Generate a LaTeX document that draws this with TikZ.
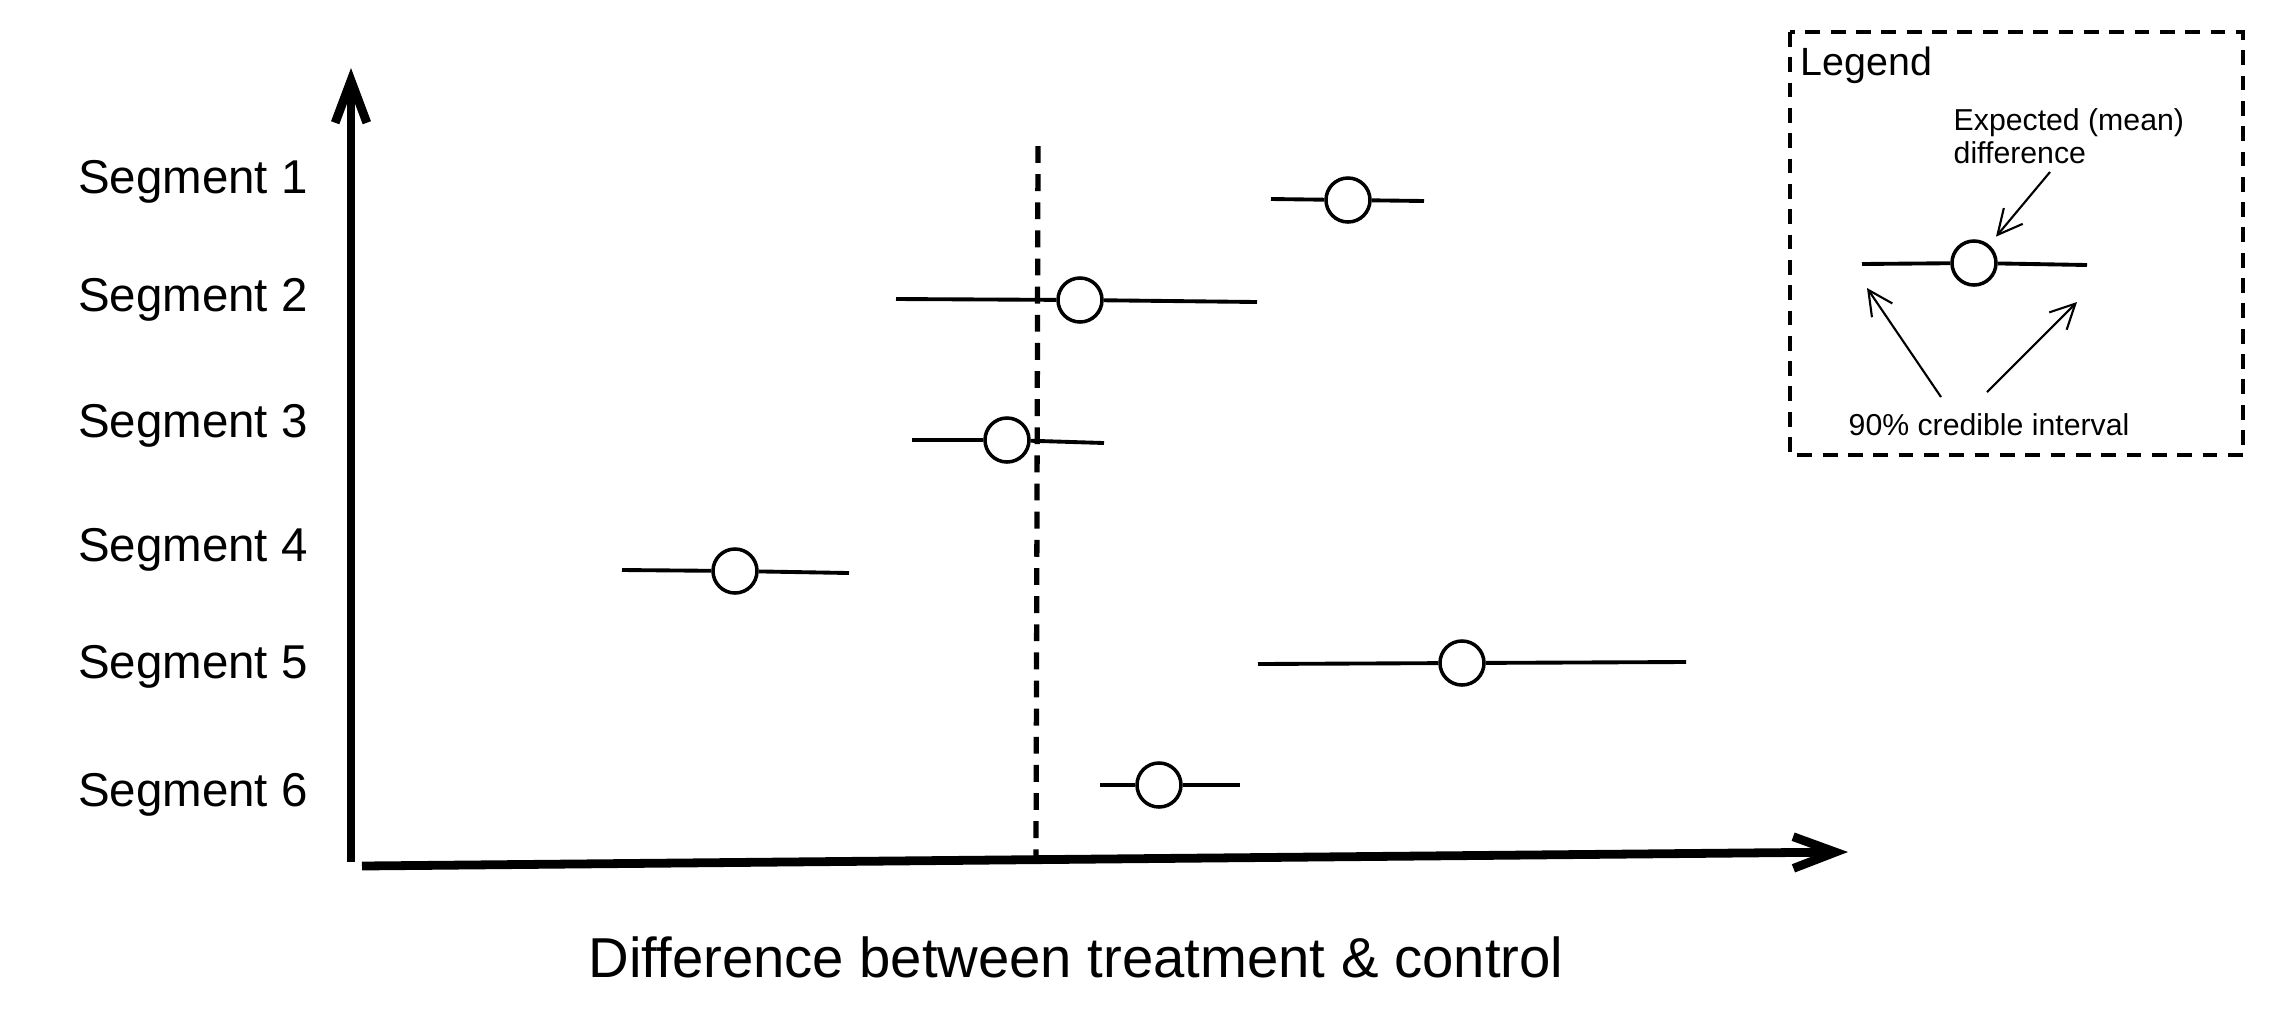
\documentclass[tikz,border=0pt]{standalone}
\usepackage{fontspec}
\setmainfont{Liberation Sans}
\usetikzlibrary{arrows.meta,positioning}

\begin{document}
\begin{tikzpicture}[x=0.01cm,y=-0.01cm,
    seglabel/.style={font=\fontsize{13.5}{16}\selectfont,anchor=base,inner sep=0pt},
    mean/.style={circle,draw,line width=1pt,fill=white,minimum size=0.44cm,inner sep=0pt},
    interval/.style={line width=1.1pt},
    axis/.style={line width=2.5pt,-{Straight Barb[length=12pt,width=9pt]}},
    zeroline/.style={line width=1.5pt,dash pattern=on 4.8pt off 3.2pt},
    legendbox/.style={line width=1pt,dash pattern=on 4.2pt off 3pt},
    note/.style={font=\fontsize{8.6}{9.4}\selectfont,align=left,inner sep=0pt},
    pointer/.style={line width=0.6pt,-{Straight Barb[length=7pt,width=7pt]}}]
    \useasboundingbox (0,0) rectangle (2274,1014);

    % Axes
    \coordinate (y-from) at (351,862);
    \coordinate (y-to) at (351,68);
    \coordinate (x-from) at (362,866);
    \coordinate (x-to) at (1848,852);
    \draw[axis] (y-from) -- (y-to);
    \draw[axis] (x-from) -- (x-to);

    % no difference
    \coordinate (zero-top) at (1038,146);
    \coordinate (zero-bottom) at (1036,858);
    \draw[zeroline] (zero-top) -- (zero-bottom);

    % Labels
    \node[seglabel] (seg-1) at (193,193) {Segment 1};
    \node[seglabel] (seg-2) at (193,311) {Segment 2};
    \node[seglabel] (seg-3) at (193,437) {Segment 3};
    \node[seglabel] (seg-4) at (193,561) {Segment 4};
    \node[seglabel] (seg-5) at (193,678) {Segment 5};
    \node[seglabel] (seg-6) at (193,806) {Segment 6};
    \node[anchor=base,inner sep=0pt,font=\fontsize{16}{19}\selectfont] (x-label) at (1076,977)
        {Difference between treatment \& control};

    % Means
    \node[mean] (mean-1) at (1348,200) {};
    \node[mean] (mean-2) at (1080,300) {};
    \node[mean] (mean-3) at (1007,440) {};
    \node[mean] (mean-4) at (735,571) {};
    \node[mean] (mean-5) at (1462,663) {};
    \node[mean] (mean-6) at (1159,785) {};

    % Intervals
    \coordinate (lo-1) at (1271,199);
    \coordinate (hi-1) at (1424,201);
    \coordinate (lo-2) at (896,299);
    \coordinate (hi-2) at (1257,302);
    \coordinate (lo-3) at (912,440);
    \coordinate (hi-3) at (1104,443);
    \coordinate (lo-4) at (622,570);
    \coordinate (hi-4) at (849,573);
    \coordinate (lo-5) at (1258,664);
    \coordinate (hi-5) at (1686,662);
    \coordinate (lo-6) at (1100,785);
    \coordinate (hi-6) at (1240,785);
    \draw[interval] (lo-1) -- (mean-1) -- (hi-1);
    \draw[interval] (lo-2) -- (mean-2) -- (hi-2);
    \draw[interval] (lo-3) -- (mean-3) -- (hi-3);
    \draw[interval] (lo-4) -- (mean-4) -- (hi-4);
    \draw[interval] (lo-5) -- (mean-5) -- (hi-5);
    \draw[interval] (lo-6) -- (mean-6) -- (hi-6);

    % Legend
    \draw[legendbox] (1790,32) rectangle (2243,455);
    \node[anchor=base west,inner sep=0pt,font=\fontsize{11.2}{13}\selectfont] (lg-title) at (1800,75) {Legend};
    \node[note,anchor=north west] (lg-mean-note) at (1953,108) {Expected (mean)\\difference};
    \node[note,anchor=base west] (lg-ci-note) at (1848,435) {90\% credible interval};
    \node[mean] (lg-mean) at (1974,263) {};
    \coordinate (lg-lo) at (1862,264);
    \coordinate (lg-hi) at (2087,265);
    \draw[interval] (lg-lo) -- (lg-mean) -- (lg-hi);

    \coordinate (mean-tail) at (2050,172);
    \coordinate (lo-tail) at (1941,397);
    \coordinate (lo-head) at (1867,288);
    \coordinate (hi-tail) at (1987,392);
    \coordinate (hi-head) at (2077,302);
    \draw[pointer,shorten >=3pt] (mean-tail) -- (lg-mean);
    \draw[pointer] (lo-tail) -- (lo-head);
    \draw[pointer] (hi-tail) -- (hi-head);
\end{tikzpicture}
\end{document}
